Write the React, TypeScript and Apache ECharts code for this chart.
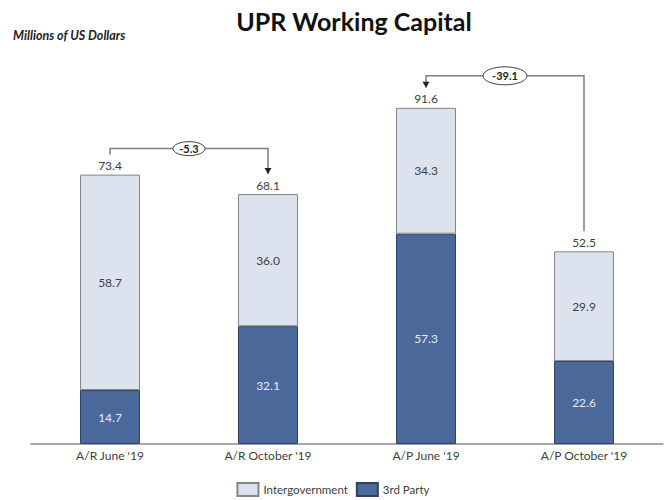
import React, { useEffect, useRef } from "react";
import * as echarts from "echarts";

const categories = ["A/R June '19", "A/R October '19", "A/P June '19", "A/P October '19"];
const thirdParty = [14.7, 32.1, 57.3, 22.6];
const intergovernment = [58.7, 36.0, 34.3, 29.9];
const totals = [73.4, 68.1, 91.6, 52.5];
const changeLabels = ["-5.3", "-39.1"];
const changeFrom = [0, 2];
const changeTo = [1, 3];
const arrowAtEnd = [true, false];

const FONT = "Lato, 'Open Sans', sans-serif";

export default function App() {
  const ref = useRef<HTMLDivElement>(null);
  useEffect(() => {
    document.body.style.margin = "0";
    if (!ref.current) return;
    const chart = echarts.init(ref.current, null, { renderer: "svg" });
    chart.setOption({
      animation: false,
      textStyle: { fontFamily: FONT },
      title: [
        {
          text: "UPR Working Capital",
          left: 349,
          top: 3,
          textAlign: "center",
          textStyle: { fontSize: 25, fontWeight: "bold", color: "#111", fontFamily: FONT },
        },
        {
          text: "Millions of US Dollars",
          left: 8,
          top: 24,
          textStyle: { fontSize: 12.5, fontWeight: "bold", fontStyle: "italic", color: "#222", fontFamily: FONT },
        },
      ],
      legend: {
        data: ["Intergovernment", "3rd Party"],
        top: 478,
        left: "center",
        padding: 4,
        itemWidth: 21,
        itemHeight: 13,
        itemGap: 8,
        textStyle: { fontSize: 11.5, color: "#404040", fontFamily: FONT },
        icon: "rect",
      },
      grid: { left: 31, right: 3, top: 77, bottom: 56 },
      xAxis: {
        type: "category",
        data: categories,
        axisLine: { lineStyle: { color: "#8a8a8a", width: 1.5 } },
        axisTick: { show: false },
        axisLabel: { fontSize: 12, color: "#404040", margin: 5, fontFamily: FONT },
      },
      yAxis: { type: "value", min: 0, max: 100, show: false, splitLine: { show: false } },
      series: [
        {
          name: "3rd Party",
          type: "bar",
          stack: "a",
          barWidth: 60,
          data: thirdParty,
          itemStyle: { color: "#4a6899", borderColor: "#2e4266", borderWidth: 1 },
          label: {
            show: true,
            position: "inside",
            color: "#e6ebf3",
            fontSize: 12,
            fontFamily: FONT,
            formatter: (p: any) => p.value.toFixed(1),
          },
        },
        {
          name: "Intergovernment",
          type: "bar",
          stack: "a",
          barWidth: 60,
          data: intergovernment,
          itemStyle: { color: "#dde3ee", borderColor: "#858585", borderWidth: 1 },
          label: {
            show: true,
            position: "inside",
            color: "#404040",
            fontSize: 12,
            fontFamily: FONT,
            formatter: (p: any) => p.value.toFixed(1),
          },
        },
        {
          name: "Total",
          type: "bar",
          stack: "a",
          barWidth: 60,
          data: totals.map(() => 0),
          itemStyle: { color: "transparent" },
          label: {
            show: true,
            position: "top",
            distance: 3,
            color: "#404040",
            fontSize: 12,
            fontFamily: FONT,
            formatter: (p: any) => totals[p.dataIndex].toFixed(1),
          },
        },
      ],
    });

    const lineColor = "#7f7f7f";
    const offsets = [26, 32];
    const graphics: any[] = [];
    changeLabels.forEach((lab, k) => {
      const a = changeFrom[k];
      const b = changeTo[k];
      const pa = chart.convertToPixel({ gridIndex: 0 }, [a, totals[a]]) as number[];
      const pb = chart.convertToPixel({ gridIndex: 0 }, [b, totals[b]]) as number[];
      const level = Math.min(pa[1], pb[1]) - offsets[k];
      const ya = pa[1] - 20;
      const yb = pb[1] - 20;
      graphics.push({
        type: "polyline",
        shape: { points: [[pa[0], ya], [pa[0], level], [pb[0], level], [pb[0], yb]] },
        style: { stroke: lineColor, lineWidth: 1.5, fill: null },
        z: 10,
      });
      const ax = arrowAtEnd[k] ? pb[0] : pa[0];
      const ay = arrowAtEnd[k] ? yb : ya;
      graphics.push({
        type: "polygon",
        shape: { points: [[ax - 3.5, ay - 6], [ax + 3.5, ay - 6], [ax, ay]] },
        style: { fill: "#222" },
        z: 11,
      });
      const cx = (pa[0] + pb[0]) / 2;
      const rx = lab.length > 4 ? 22 : 16;
      const ry = lab.length > 4 ? 9 : 7;
      graphics.push({
        type: "ellipse",
        shape: { cx, cy: level, rx, ry },
        style: { fill: "#fff", stroke: "#404040", lineWidth: 1 },
        z: 12,
      });
      graphics.push({
        type: "text",
        x: cx,
        y: level,
        style: {
          text: lab,
          fontSize: 11,
          fontWeight: "bold",
          fontFamily: FONT,
          fill: "#222",
          align: "center",
          verticalAlign: "middle",
        },
        z: 13,
      });
    });
    chart.setOption({ graphic: graphics });

    return () => chart.dispose();
  }, []);
  return <div ref={ref} style={{ width: 666, height: 500 }} />;
}
